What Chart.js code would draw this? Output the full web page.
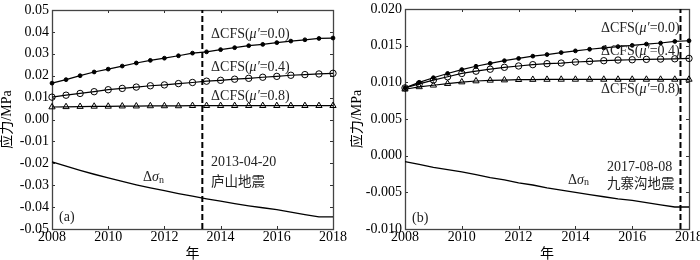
<!DOCTYPE html>
<html><head><meta charset="utf-8">
<script src="https://cdn.jsdelivr.net/npm/chart.js@4"></script>
<style>
html,body{margin:0;padding:0;background:#fff;}
#wrap{position:relative;width:700px;height:260px;overflow:hidden;}
.c{position:absolute;top:0;width:350px;height:260px;}
</style></head><body>
<div id="wrap">
<div class="c" style="left:0"><canvas id="ca"></canvas></div>
<div class="c" style="left:350px"><canvas id="cb"></canvas></div>
</div>
<script>
// ---------- data ----------
const years = [2008,2008.5,2009,2009.5,2010,2010.5,2011,2011.5,2012,2012.5,2013,2013.5,2014,2014.5,2015,2015.5,2016,2016.5,2017,2017.5,2018];
const xTicks = [2008,2010,2012,2014,2016,2018];

// panel (a) 庐山
const a_cfs00 = [0.0166,0.0182,0.0200,0.0217,0.0230,0.0244,0.0258,0.0270,0.0280,0.0291,0.0303,0.0309,0.0319,0.0328,0.0337,0.0343,0.0351,0.0358,0.0364,0.0370,0.0372];
const a_cfs04 = [0.0102,0.0111,0.0119,0.0127,0.0136,0.0142,0.0148,0.0154,0.0158,0.0164,0.0169,0.0175,0.0179,0.0184,0.0188,0.0193,0.0197,0.0202,0.0205,0.0208,0.0211];
const a_cfs08 = [0.0057,0.0058,0.0059,0.0060,0.0060,0.0061,0.0061,0.0062,0.0062,0.0062,0.0063,0.0063,0.0063,0.0063,0.0063,0.0063,0.0063,0.0063,0.0063,0.0063,0.0063];
const a_dsn   = [-0.0193,-0.0213,-0.0232,-0.0250,-0.0267,-0.0283,-0.0298,-0.0312,-0.0325,-0.0338,-0.0350,-0.0362,-0.0373,-0.0384,-0.0394,-0.0403,-0.0412,-0.0423,-0.0434,-0.0445,-0.0445];
const a_event = 2013.35;
const a_yTicks = [-0.05,-0.04,-0.03,-0.02,-0.01,0.00,0.01,0.02,0.03,0.04,0.05];

// panel (b) 九寨沟
const b_cfs00 = [0.00924,0.01000,0.01063,0.01121,0.01174,0.01219,0.01259,0.01295,0.01326,0.01357,0.01379,0.01406,0.01429,0.01451,0.01469,0.01487,0.01504,0.01522,0.01536,0.01558,0.01567];
const b_cfs04 = [0.00924,0.00978,0.01031,0.01076,0.01121,0.01152,0.01179,0.01205,0.01223,0.01241,0.01254,0.01263,0.01277,0.01286,0.01295,0.01304,0.01308,0.01313,0.01317,0.01321,0.01326];
const b_cfs08 = [0.00906,0.00938,0.00960,0.00982,0.01004,0.01018,0.01027,0.01031,0.01036,0.01038,0.01039,0.01040,0.01040,0.01040,0.01040,0.01040,0.01040,0.01040,0.01040,0.01040,0.01040];
const b_dsn   = [-0.0008,-0.0012,-0.0016,-0.0019,-0.0022,-0.0026,-0.0030,-0.0033,-0.0037,-0.0040,-0.0044,-0.0047,-0.0050,-0.0053,-0.0056,-0.0059,-0.0061,-0.0064,-0.0067,-0.0070,-0.0070];
const b_event = 2017.70;
const b_yTicks = [-0.010,-0.005,0.000,0.005,0.010,0.015,0.020];

// ---------- helpers ----------
const SERIF = 'Liberation Serif, Times New Roman, serif';
const CJK = 'Noto Sans CJK SC, Liberation Serif, sans-serif';
const MIX = 'Liberation Serif, Noto Sans CJK SC, serif';
const pts = arr => years.map((x,i)=>({x, y:arr[i]}));

function drawRich(ctx, x, y, segs){
  let cx = x;
  for(const s of segs){
    ctx.font = (s.it?'italic ':'') + (s.size||14) + 'px ' + (s.fam||SERIF);
    ctx.fillText(s.t, cx, y + (s.dy||0));
    cx += ctx.measureText(s.t).width;
  }
}

const framePlugin = {
  id:'frame',
  beforeDatasetsDraw(chart){
    const {ctx, chartArea:a, scales:{x,y}} = chart;
    ctx.save();
    ctx.strokeStyle = '#333';
    ctx.lineWidth = 1;
    const L=3;
    ctx.beginPath();
    for(const v of chart.options.custom.xTicks){
      const px = Math.round(x.getPixelForValue(v))+0.5;
      ctx.moveTo(px, a.bottom); ctx.lineTo(px, a.bottom-L);
      ctx.moveTo(px, a.top); ctx.lineTo(px, a.top+L);
    }
    for(const v of chart.options.custom.yTicks){
      const py = Math.round(y.getPixelForValue(v))+0.5;
      ctx.moveTo(a.left, py); ctx.lineTo(a.left+L, py);
      ctx.moveTo(a.right, py); ctx.lineTo(a.right-L, py);
    }
    ctx.stroke();
    ctx.lineWidth = 1.3;
    ctx.strokeStyle = '#444';
    ctx.strokeRect(Math.round(a.left)+0.5, Math.round(a.top)+0.5, Math.round(a.right-a.left), Math.round(a.bottom-a.top));
    ctx.restore();
  },
  afterDatasetsDraw(chart){
    const {ctx, scales:{x,y}} = chart;
    ctx.save();
    ctx.fillStyle = '#222';
    ctx.textBaseline = 'middle';
    ctx.textAlign = 'left';
    for(const an of chart.options.custom.notes){
      drawRich(ctx, x.getPixelForValue(an.x), y.getPixelForValue(an.y), an.segs);
    }
    ctx.restore();
  }
};

const cfsLabel = mu => [{t:'ΔCFS('},{t:'μ′',it:true},{t:'='+mu+')'}];
const dsnLabel = [{t:'Δ'},{t:'σ',it:true},{t:'n',size:10,dy:3}];

function makeChart(id, o){
  const line = (arr, style, r, fill) => ({
    data: pts(arr), borderColor:'#000', borderWidth:1.2, pointStyle:style,
    pointRadius:r, pointBorderColor:'#000', pointBorderWidth:1,
    pointBackgroundColor:fill, tension:0, clip:false
  });
  return new Chart(document.getElementById(id), {
    type:'line',
    data:{ datasets:[
      line(o.s00,'circle',1.9,'#000'),
      line(o.s04,'circle',3.2,'rgba(0,0,0,0)'),
      line(o.s08,'triangle',3.6,'rgba(0,0,0,0)'),
      {data:pts(o.dsn), borderColor:'#000', borderWidth:1.3, pointRadius:0, tension:0, clip:false},
      {data:[{x:o.event,y:o.yTicks[0]},{x:o.event,y:o.yTicks[o.yTicks.length-1]}],
       borderColor:'#000', borderWidth:2, borderDash:[6,3], pointRadius:0}
    ]},
    options:{
      responsive:true, maintainAspectRatio:false, animation:false,
      layout:{padding:{top:o.padTop, right:o.padRight, left:0, bottom:0}},
      plugins:{legend:{display:false}, tooltip:{enabled:false}},
      custom:{xTicks, yTicks:o.yTicks, notes:o.notes},
      scales:{
        x:{type:'linear', min:2008, max:2018,
           afterBuildTicks(s){ s.ticks = xTicks.map(v=>({value:v})); },
           ticks:{font:{family:SERIF,size:14}, color:'#000', padding:0, maxRotation:0, autoSkip:false, callback:v=>String(v)},
           grid:{display:false, drawTicks:false}, border:{display:false},
           title:{display:true, text:'年', color:'#000', padding:0, font:{family:CJK,size:14,lineHeight:1.07}},
           afterFit(s){ s.height = 31; s.paddingLeft=0; s.paddingRight=0; }
        },
        y:{type:'linear', min:o.yTicks[0], max:o.yTicks[o.yTicks.length-1],
           afterBuildTicks(s){ s.ticks = o.yTicks.map(v=>({value:v})); },
           ticks:{font:{family:SERIF,size:14}, color:'#000', padding:3, autoSkip:false,
                  callback:v=> (Math.abs(v)<1e-9?0:v).toFixed(o.dec)},
           grid:{display:false, drawTicks:false}, border:{display:false},
           title:{display:true, text:'应力/MPa', color:'#000', padding:0, font:{family:MIX,size:14,lineHeight:1.07}},
           afterFit(s){ s.width = o.yWidth; s.paddingTop=0; s.paddingBottom=0; }
        }
      }
    },
    plugins:[framePlugin]
  });
}

makeChart('ca', {
  s00:a_cfs00, s04:a_cfs04, s08:a_cfs08, dsn:a_dsn, event:a_event,
  yTicks:a_yTicks, dec:2, yWidth:52, padTop:10, padRight:17,
  notes:[
    {x:2013.66, y:0.0390, segs:cfsLabel('0.0')},
    {x:2013.66, y:0.0240, segs:cfsLabel('0.4')},
    {x:2013.66, y:0.0107, segs:cfsLabel('0.8')},
    {x:2013.66, y:-0.0194, segs:[{t:'2013-04-20'}]},
    {x:2013.66, y:-0.0281, segs:[{t:'庐山地震',fam:CJK,size:13.5}]},
    {x:2011.24, y:-0.0263, segs:dsnLabel},
    {x:2008.25, y:-0.0445, segs:[{t:'(a)'}]}
  ]
});
makeChart('cb', {
  s00:b_cfs00, s04:b_cfs04, s08:b_cfs08, dsn:b_dsn, event:b_event,
  yTicks:b_yTicks, dec:3, yWidth:55, padTop:9, padRight:11,
  notes:[
    {x:2014.90, y:0.01741, segs:cfsLabel('0.0')},
    {x:2014.90, y:0.01428, segs:cfsLabel('0.4')},
    {x:2014.90, y:0.0091, segs:cfsLabel('0.8')},
    {x:2015.11, y:-0.00154, segs:[{t:'2017-08-08'}]},
    {x:2015.11, y:-0.00372, segs:[{t:'九寨沟地震',fam:CJK,size:13.5}]},
    {x:2013.74, y:-0.0033, segs:dsnLabel},
    {x:2008.25, y:-0.0085, segs:[{t:'(b)'}]}
  ]
});
</script>
</body></html>
